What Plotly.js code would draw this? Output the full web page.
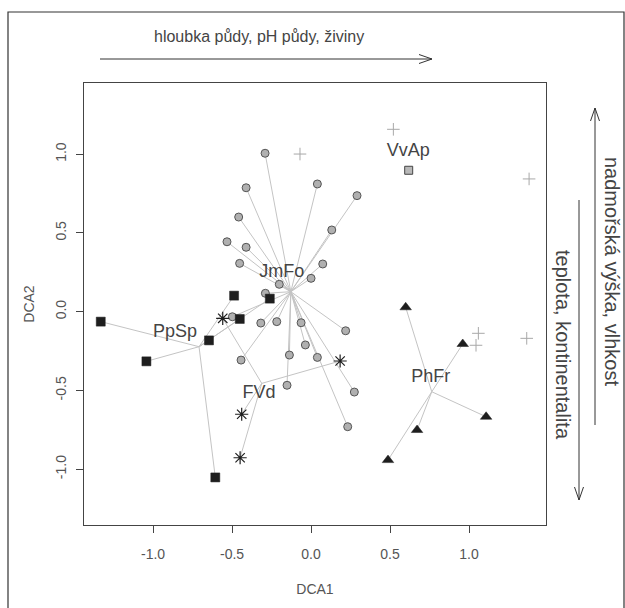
<!DOCTYPE html>
<html>
<head>
<meta charset="utf-8">
<script src="https://cdn.plot.ly/plotly-3.0.1.min.js"></script>
<style>html,body{margin:0;padding:0;background:#fff;}#plot{width:625px;height:608px;}</style>
</head>
<body>
<div id="plot"></div>
<script>
// ---- data (DCA scores) ----
const jmfoX = [-0.291,-0.411,0.040,0.291,-0.458,0.131,-0.532,-0.411,-0.452,0.074,0.000,-0.201,-0.289,-0.498,-0.318,-0.217,-0.063,0.219,-0.036,-0.443,-0.137,0.040,-0.152,0.274,0.232];
const jmfoY = [1.006,0.787,0.811,0.737,0.601,0.519,0.444,0.409,0.307,0.303,0.212,0.174,0.117,-0.032,-0.072,-0.063,-0.070,-0.121,-0.211,-0.307,-0.275,-0.290,-0.467,-0.510,-0.730];
const ppspX = [-1.331,-1.042,-0.646,-0.487,-0.261,-0.451,-0.606];
const ppspY = [-0.063,-0.315,-0.182,0.102,0.083,-0.046,-1.052];
const fvdX = [-0.559,0.184,-0.439,-0.449];
const fvdY = [-0.042,-0.313,-0.651,-0.927];
const phfrX = [0.599,0.960,1.108,0.671,0.487];
const phfrY = [0.028,-0.205,-0.667,-0.751,-0.942];
const vvapX = [0.618];
const vvapY = [0.898];
const plusX = [0.521,-0.070,1.380,1.059,1.044,1.365];
const plusY = [1.158,1.001,0.843,-0.137,-0.213,-0.169];
const groupNames = ['JmFo','PpSp','FVd','PhFr'];
const centX = [-0.128,-0.709,-0.312,0.764];
const centY = [0.127,-0.222,-0.455,-0.508];
const labelText = ['JmFo','PpSp','FVd','PhFr','VvAp'];
const labelX = [-0.185,-0.861,-0.329,0.758,0.616];
const labelY = [0.246,-0.135,-0.521,-0.418,1.017];
const tickVals = [-1.0,-0.5,0.0,0.5,1.0];
const tickText = ['-1.0','-0.5','0.0','0.5','1.0'];
const topGradient = 'hloubka půdy, pH půdy, živiny';
const rightUp = 'nadmořská výška, vlhkost';
const rightDown = 'teplota, kontinentalita';

// ---- spider segments ----
function spider(xs, ys, cx, cy){
  const sx=[], sy=[];
  for(let i=0;i<xs.length;i++){ sx.push(cx, xs[i], null); sy.push(cy, ys[i], null); }
  return {sx, sy};
}
const groupsX=[jmfoX,ppspX,fvdX,phfrX], groupsY=[jmfoY,ppspY,fvdY,phfrY];
const traces=[];
groupsX.forEach((gx,k)=>{
  const s=spider(gx,groupsY[k],centX[k],centY[k]);
  traces.push({x:s.sx,y:s.sy,mode:'lines',type:'scatter',hoverinfo:'skip',showlegend:false,
    line:{color:'#c4c4c4',width:1}});
});
const FONT='Liberation Sans, Arial, sans-serif';
traces.push({x:plusX,y:plusY,mode:'markers',type:'scatter',name:'other',
  marker:{symbol:'cross-thin-open',size:9,color:'#a8a8a8',line:{color:'#a8a8a8',width:1}}});
traces.push({x:jmfoX,y:jmfoY,mode:'markers',type:'scatter',name:'JmFo',
  marker:{symbol:'circle',size:8,color:'#b0b0b0',line:{color:'#555',width:1}}});
traces.push({x:ppspX,y:ppspY,mode:'markers',type:'scatter',name:'PpSp',
  marker:{symbol:'square',size:9,color:'#1e1e1e',line:{color:'#1e1e1e',width:0.5}}});
traces.push({x:fvdX,y:fvdY,mode:'markers',type:'scatter',name:'FVd',
  marker:{symbol:'asterisk-open',size:11,color:'#1e1e1e',line:{color:'#1e1e1e',width:1.2}}});
traces.push({x:phfrX,y:phfrY,mode:'markers',type:'scatter',name:'PhFr',
  marker:{symbol:'triangle-up',size:10,color:'#1e1e1e',line:{color:'#1e1e1e',width:0.5}}});
traces.push({x:vvapX,y:vvapY,mode:'markers',type:'scatter',name:'VvAp',
  marker:{symbol:'square',size:8,color:'#b8b8b8',line:{color:'#444',width:1}}});
traces.push({x:labelX,y:labelY,text:labelText,mode:'text',type:'scatter',textposition:'middle center',
  hoverinfo:'skip',showlegend:false,textfont:{family:FONT,size:18,color:'#444'}});

// pixel -> paper helpers for decorations
const L=84,R=546,T=83,B=525;
const pX=px=>(px-L)/(R-L), pY=py=>(B-py)/(B-T);
function seg(x0,y0,x1,y1,w){return {type:'line',xref:'paper',yref:'paper',x0:pX(x0),y0:pY(y0),x1:pX(x1),y1:pY(y1),line:{color:'#333',width:w||1}};}
const shapes=[
  {type:'rect',xref:'paper',yref:'paper',x0:pX(8),x1:pX(624),y0:pY(640),y1:pY(12),line:{color:'#333',width:1.2},fillcolor:'rgba(0,0,0,0)'},
  // top arrow
  seg(100,59,432,59), seg(432,59,419,54.5), seg(432,59,419,63.5),
  // up arrow
  seg(595,425,595,108), seg(595,108,590.5,121), seg(595,108,599.5,121),
  // down arrow
  seg(579,200,579,500), seg(579,500,574.5,487), seg(579,500,583.5,487)
];
const annotations=[
  {xref:'paper',yref:'paper',x:pX(259),y:pY(37),text:topGradient,showarrow:false,xanchor:'center',yanchor:'middle',
   font:{family:FONT,size:16,color:'#444'}},
  {xref:'paper',yref:'paper',x:pX(612),y:pY(271),text:rightUp,showarrow:false,textangle:90,xanchor:'center',yanchor:'middle',
   font:{family:FONT,size:20,color:'#444'}},
  {xref:'paper',yref:'paper',x:pX(563),y:pY(345),text:rightDown,showarrow:false,textangle:90,xanchor:'center',yanchor:'middle',
   font:{family:FONT,size:20,color:'#444'}}
];
const layout={
  width:625,height:608,margin:{l:L,r:625-R,t:T,b:608-B},
  paper_bgcolor:'#fff',plot_bgcolor:'#fff',showlegend:false,
  font:{family:FONT,color:'#444',size:14},
  xaxis:{range:[-1.437,1.487],tickvals:tickVals,ticktext:tickText,ticks:'outside',ticklen:7,tickcolor:'#444',
    ticklabelstandoff:9,
    showgrid:false,zeroline:false,showline:true,mirror:true,linecolor:'#444',linewidth:1,
    tickfont:{size:14,color:'#555'},title:{text:'DCA1',font:{size:14,color:'#555'},standoff:23}},
  yaxis:{range:[-1.354,1.452],tickvals:tickVals,ticktext:tickText,ticks:'outside',ticklen:7,tickcolor:'#444',tickangle:-90,
    ticklabelstandoff:4,
    showgrid:false,zeroline:false,showline:true,mirror:true,linecolor:'#444',linewidth:1,
    tickfont:{size:14,color:'#555'},title:{text:'DCA2',font:{size:14,color:'#555'},standoff:15}},
  shapes:shapes,annotations:annotations
};
Plotly.newPlot('plot',traces,layout,{displayModeBar:false,staticPlot:true});
</script>
</body>
</html>
